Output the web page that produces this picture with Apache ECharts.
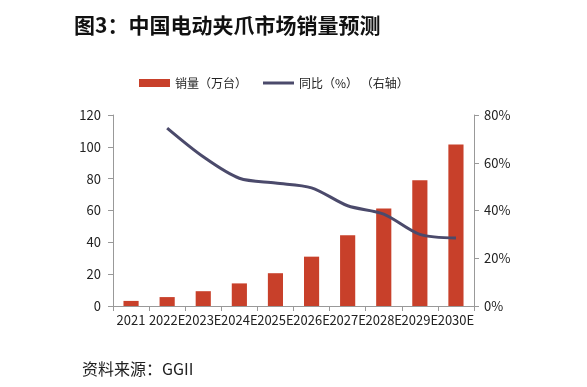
<!DOCTYPE html>
<html><head><meta charset="utf-8">
<script src="https://cdn.jsdelivr.net/npm/echarts@6/dist/echarts.min.js"></script>
<style>html,body{margin:0;padding:0;background:#fff}#c{width:587px;height:387px}</style>
</head><body><div id="c"></div>
<script>
var categories = ['2021','2022E','2023E','2024E','2025E','2026E','2027E','2028E','2029E','2030E'];
var sales = [3.2, 5.6, 9.3, 14.2, 20.6, 31, 44.5, 61.2, 79, 101.5];
var yoy = [null, 74.5, 62.5, 53.5, 51.5, 49.5, 42, 38.5, 30, 28.5];
var leftTicks = [0, 120, 20];
var rightTicks = [0, 80, 20];

var chart = echarts.init(document.getElementById('c'), null, {renderer:'canvas'});
var font = '"Noto Sans CJK SC", "Noto Sans", sans-serif';
chart.setOption({
  animation:false,
  textStyle:{fontFamily:font},
  title:{text:'图3：中国电动夹爪市场销量预测', left:69, top:10,
    textStyle:{fontSize:21, fontWeight:'bold', color:'#111', fontFamily:font}},
  graphic:[{type:'text', left:82, top:361, style:{text:'资料来源：GGII', fontSize:16, fill:'#222', fontFamily:font}}],
  legend:{top:72, left:134, itemGap:16, itemWidth:31, itemHeight:8,
    textStyle:{fontSize:12, color:'#222', fontFamily:font},
    data:[{name:'销量（万台）', icon:'rect'},{name:'同比（%） （右轴）', icon:'path://M0,0 H31 V3 H0 Z'}]},
  grid:{left:113, right:113, top:115, bottom:81},
  xAxis:{type:'category', data:categories, boundaryGap:true,
    axisLine:{lineStyle:{color:'#999'}}, axisTick:{show:true, lineStyle:{color:'#999'}},
    axisLabel:{fontSize:13, color:'#222', interval:0, margin:8}},
  yAxis:[
    {type:'value', min:leftTicks[0], max:leftTicks[1], interval:leftTicks[2],
      axisLine:{show:true, lineStyle:{color:'#999'}}, axisTick:{show:true, lineStyle:{color:'#999'}},
      splitLine:{show:false}, axisLabel:{fontSize:13, color:'#222', margin:12}},
    {type:'value', min:rightTicks[0], max:rightTicks[1], interval:rightTicks[2],
      axisLine:{show:true, lineStyle:{color:'#999'}}, axisTick:{show:true, lineStyle:{color:'#999'}},
      splitLine:{show:false}, axisLabel:{fontSize:13, color:'#222', formatter:'{value}%', margin:10}}
  ],
  series:[
    {name:'销量（万台）', type:'bar', data:sales, barWidth:'42%', itemStyle:{color:'#c8402a'}},
    {name:'同比（%） （右轴）', type:'line', yAxisIndex:1, data:yoy, smooth:0.3, symbol:'none',
      lineStyle:{color:'#4b4a6b', width:3}, itemStyle:{color:'#4b4a6b'}}
  ]
});
</script></body></html>
